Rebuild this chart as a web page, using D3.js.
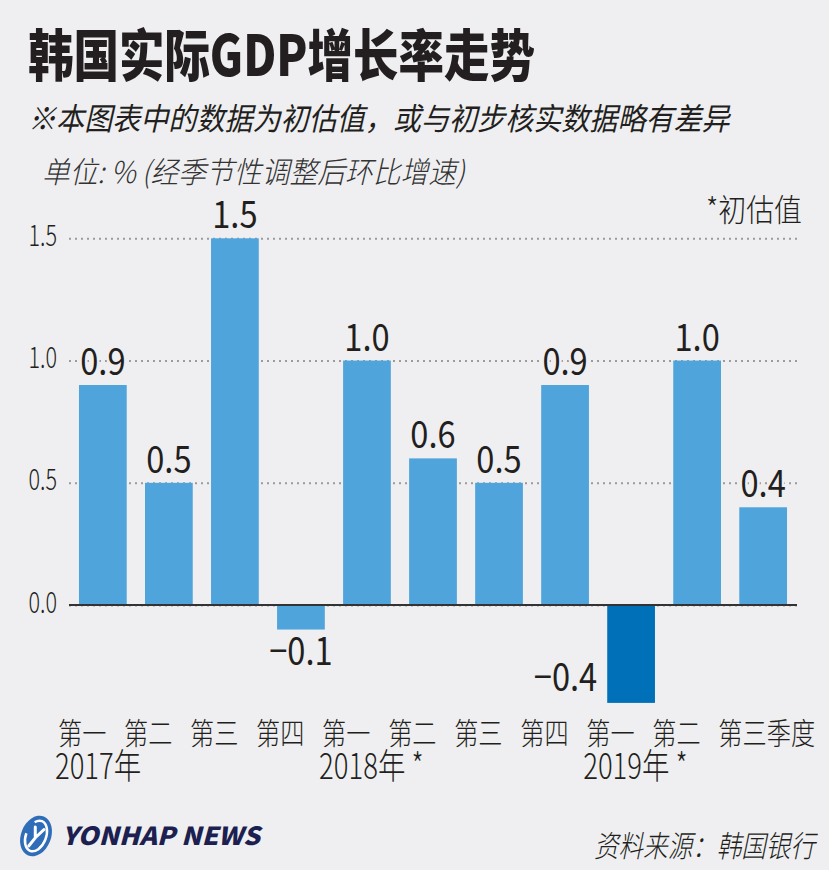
<!DOCTYPE html>
<html>
<head>
<meta charset="utf-8">
<script src="https://cdn.jsdelivr.net/npm/d3@7"></script>
<style>
  body { margin: 0; background: #ffffff; }
  svg text { font-family: "Noto Sans CJK SC", "Noto Sans", sans-serif; fill: #231f20; }
</style>
</head>
<body>
<div id="chart"></div>
<script>
// data
var quarters = ["第一", "第二", "第三", "第四", "第一", "第二", "第三", "第四", "第一", "第二", "第三季度"];
var growth = [0.9, 0.5, 1.5, -0.1, 1.0, 0.6, 0.5, 0.9, -0.4, 1.0, 0.4];
var years = ["2017年", "2018年 *", "2019年 *"];
var yearFirstQuarter = [0, 4, 8];
var yTicks = [0, 0.5, 1.0, 1.5];

var svgWidth = 835;
var svgHeight = 873;

var svg = d3.select("#chart")
  .append("svg")
  .attr("width", svgWidth)
  .attr("height", svgHeight);

// light grey card, white strip at right and bottom
svg.append("rect")
  .attr("x", 0).attr("y", 0)
  .attr("width", 829).attr("height", 870)
  .attr("fill", "#efeff1");

// the original uses a condensed face -> scale text horizontally
// f < 1 is a factor, otherwise it's a target width in px
function squeeze(sel, f) {
  sel.each(function() {
    var t = d3.select(this);
    var w = this.getComputedTextLength();
    var k = f > 1 ? f / w : f;
    var tx = +t.attr("x") || 0, ty = +t.attr("y") || 0;
    t.attr("x", 0).attr("y", 0)
      .attr("transform", `translate(${tx}, ${ty}) scale(${k}, 1)`);
  });
}

// titles
svg.append("text")
  .attr("x", 28).attr("y", 76)
  .attr("font-size", 56).attr("font-weight", 900)
  .text("韩国实际GDP增长率走势")
  .call(squeeze, 507);

svg.append("text")
  .attr("x", 28).attr("y", 130)
  .attr("font-size", 31).attr("font-style", "italic")
  .text("※本图表中的数据为初估值，或与初步核实数据略有差异")
  .call(squeeze, 702);

svg.append("text")
  .attr("x", 42).attr("y", 183)
  .attr("font-size", 30).attr("font-style", "italic").attr("font-weight", 300)
  .style("fill", "#333")
  .text("单位: % (经季节性调整后环比增速)")
  .call(squeeze, 423);

svg.append("text")
  .attr("x", 706).attr("y", 221)
  .attr("font-size", 31).attr("font-weight", 300)
  .text("*初估值")
  .call(squeeze, 96);

// scales
var left = 69, right = 797;
var x = d3.scaleBand()
  .domain(d3.range(growth.length))
  .range([left, right])
  .paddingInner(0.277)
  .paddingOuter(0.151);

var y = d3.scaleLinear()
  .domain([-0.4, 1.5])
  .range([702.9, 238.3]);

// grid + y labels through an axis
var yAxis = svg.append("g")
  .attr("transform", `translate(${left}, 0)`)
  .call(d3.axisLeft(y)
    .tickValues(yTicks)
    .tickFormat(d3.format(".1f"))
    .tickSize(-(right - left))
    .tickPadding(12));

yAxis.select(".domain").remove();
yAxis.selectAll(".tick line")
  .attr("stroke", "#9b9b9b")
  .attr("stroke-width", 2)
  .attr("stroke-dasharray", "2,4");
yAxis.selectAll(".tick text")
  .attr("font-size", 30)
  .attr("font-weight", 300)
  .attr("dy", 7)
  .style("fill", "#231f20")
  .call(squeeze, 0.72);

// bars
svg.selectAll(".bar")
  .data(growth)
  .enter()
  .append("rect")
  .attr("class", "bar")
  .attr("x", (d, i) => x(i))
  .attr("width", x.bandwidth())
  .attr("y", d => y(Math.max(0, d)))
  .attr("height", d => Math.abs(y(d) - y(0)))
  .attr("fill", (d, i) => i === growth.length - 3 ? "#0070b8" : "#4fa4db");

// zero line
svg.append("line")
  .attr("x1", left).attr("x2", right)
  .attr("y1", y(0)).attr("y2", y(0))
  .attr("stroke", "#333")
  .attr("stroke-width", 2);

// value labels (deep negative bar gets its label beside it)
var beside = d => y(d) - y(0) > 60;
svg.selectAll(".val")
  .data(growth)
  .enter()
  .append("text")
  .attr("class", "val")
  .attr("font-size", 38)
  .attr("font-weight", 400)
  .attr("text-anchor", d => beside(d) ? "end" : "middle")
  .attr("x", (d, i) => beside(d) ? x(i) - 10 : x(i) + x.bandwidth() / 2)
  .attr("y", d => {
    if (d >= 0) return y(d) - 10;
    if (beside(d)) return y(d) - 12;
    return y(d) + 35;
  })
  .style("paint-order", "stroke")
  .style("stroke", "#efeff1")
  .style("stroke-width", 6)
  .text(d => d < 0 ? "\u2212" + Math.abs(d).toFixed(1) : d.toFixed(1))
  .call(squeeze, 0.86);

// quarter labels
svg.selectAll(".q")
  .data(quarters)
  .enter()
  .append("text")
  .attr("class", "q")
  .attr("x", (d, i) => x(i) - 21)
  .attr("y", 744)
  .attr("font-size", 30)
  .attr("font-weight", 300)
  .text(d => d)
  .each(function(d) {
    d3.select(this).call(squeeze, d.length * 24.2);
  });

// year labels
svg.selectAll(".yr")
  .data(years)
  .enter()
  .append("text")
  .attr("class", "yr")
  .attr("x", (d, i) => x(yearFirstQuarter[i]) - 24)
  .attr("y", 779)
  .attr("font-size", 35)
  .attr("font-weight", 300)
  .text(d => d)
  .call(squeeze, 0.785);

// logo
var logo = svg.append("g")
  .attr("transform", "translate(36, 836) rotate(22)");
logo.append("ellipse")
  .attr("rx", 15).attr("ry", 21)
  .attr("fill", "#2f6db8");
logo.append("ellipse")
  .attr("rx", 10).attr("ry", 16)
  .attr("fill", "none")
  .attr("stroke", "#ffffff")
  .attr("stroke-width", 2.5)
  .attr("stroke-dasharray", "40,14");
logo.append("path")
  .attr("d", "M-4,-8 L0,2 L5,-9 M0,2 L-3,12")
  .attr("fill", "none")
  .attr("stroke", "#ffffff")
  .attr("stroke-width", 3)
  .attr("stroke-linecap", "round");

svg.append("text")
  .attr("x", 62).attr("y", 845)
  .attr("font-size", 25)
  .attr("font-weight", 900)
  .attr("font-style", "italic")
  .style("fill", "#1d1f50")
  .text("YONHAP NEWS")
  .call(squeeze, 198);

// source
svg.append("text")
  .attr("x", 594).attr("y", 857)
  .attr("font-size", 30)
  .attr("font-weight", 300)
  .attr("font-style", "italic")
  .text("资料来源：韩国银行")
  .call(squeeze, 221);
</script>
</body>
</html>
